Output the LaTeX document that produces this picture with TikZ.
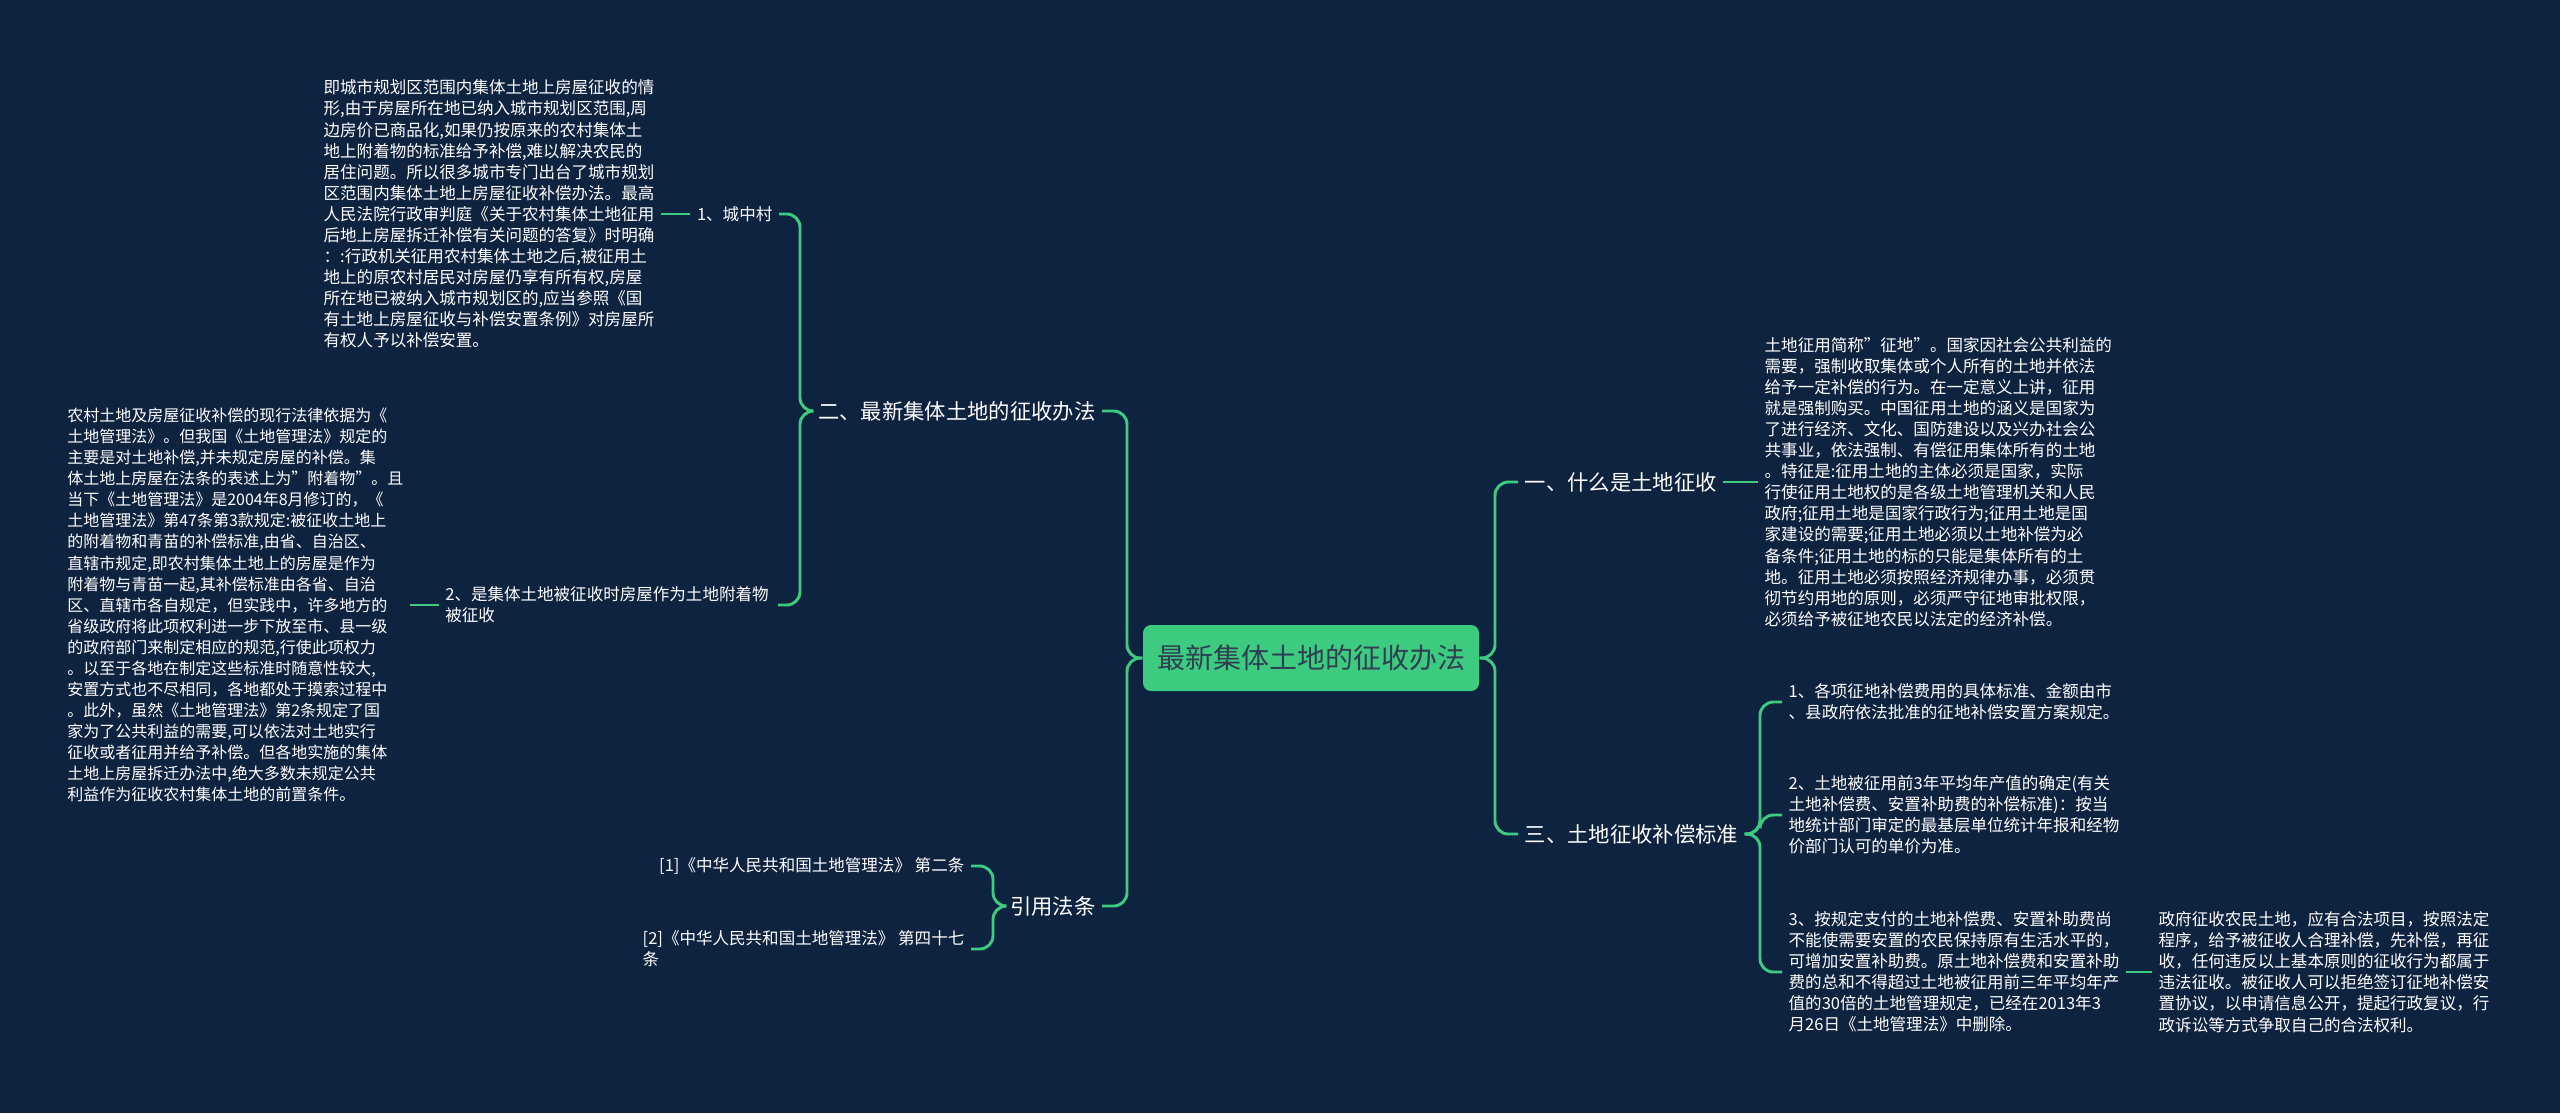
\documentclass[tikz,border=0pt]{standalone}
\usepackage{fontspec}
\setmainfont{Noto Sans CJK SC}
\begin{document}
\begin{tikzpicture}[x=0.375pt,y=-0.375pt,
  txt/.style={text=white,font=\fontsize{6.2}{7.9}\selectfont,align=left,inner sep=0pt,outer sep=2.5pt},
  lab/.style={text=white,font=\fontsize{8}{10}\selectfont,inner sep=0pt,outer sep=2.5pt},
  con/.style={draw=lineg,line width=1.1pt,rounded corners=5pt}]
\definecolor{bg}{HTML}{0E2340}
\definecolor{lineg}{HTML}{3CCB7F}
\fill[bg] (0,0) rectangle (2560,1113);
\useasboundingbox (0,0) rectangle (2560,1113);
% centre
\node[fill=lineg,rounded corners=3pt,minimum width=336*0.375pt,minimum height=66*0.375pt,text=bg!70!gray,font=\fontsize{10.5}{12}\selectfont] (c) at (1311,658) {最新集体土地的征收办法};
% right side
\node[lab,anchor=west] (r1) at (1518,482) {一、什么是土地征收};
\node[lab,anchor=west] (r3) at (1518,834) {三、土地征收补偿标准};
\node[txt,anchor=west] (t1) at (1758,482) {土地征用简称"征地"。国家因社会公共利益的\\需要，强制收取集体或个人所有的土地并依法\\给予一定补偿的行为。在一定意义上讲，征用\\就是强制购买。中国征用土地的涵义是国家为\\了进行经济、文化、国防建设以及兴办社会公\\共事业，依法强制、有偿征用集体所有的土地\\。特征是:征用土地的主体必须是国家，实际\\行使征用土地权的是各级土地管理机关和人民\\政府;征用土地是国家行政行为;征用土地是国\\家建设的需要;征用土地必须以土地补偿为必\\备条件;征用土地的标的只能是集体所有的土\\地。征用土地必须按照经济规律办事，必须贯\\彻节约用地的原则，必须严守征地审批权限，\\必须给予被征地农民以法定的经济补偿。};
\node[txt,anchor=west] (s1) at (1782,702) {1、各项征地补偿费用的具体标准、金额由市\\、县政府依法批准的征地补偿安置方案规定。};
\node[txt,anchor=west] (s2) at (1782,815) {2、土地被征用前3年平均年产值的确定(有关\\土地补偿费、安置补助费的补偿标准)：按当\\地统计部门审定的最基层单位统计年报和经物\\价部门认可的单价为准。};
\node[txt,anchor=west] (s3) at (1782,972) {3、按规定支付的土地补偿费、安置补助费尚\\不能使需要安置的农民保持原有生活水平的，\\可增加安置补助费。原土地补偿费和安置补助\\费的总和不得超过土地被征用前三年平均年产\\值的30倍的土地管理规定，已经在2013年3\\月26日《土地管理法》中删除。};
\node[txt,anchor=west] (s4) at (2152,972) {政府征收农民土地，应有合法项目，按照法定\\程序，给予被征收人合理补偿，先补偿，再征\\收，任何违反以上基本原则的征收行为都属于\\违法征收。被征收人可以拒绝签订征地补偿安\\置协议，以申请信息公开，提起行政复议，行\\政诉讼等方式争取自己的合法权利。};
% left side
\node[lab,anchor=east] (l2) at (1102,411) {二、最新集体土地的征收办法};
\node[lab,anchor=east] (lr) at (1102,906) {引用法条};
\node[txt,anchor=east] (a1) at (779,214) {1、城中村};
\node[txt,anchor=east,text width=326*0.375pt] (a2) at (778,605) {2、是集体土地被征收时房屋作为土地附着物\\被征收};
\node[txt,anchor=east] (b1) at (661,214) {即城市规划区范围内集体土地上房屋征收的情\\形,由于房屋所在地已纳入城市规划区范围,周\\边房价已商品化,如果仍按原来的农村集体土\\地上附着物的标准给予补偿,难以解决农民的\\居住问题。所以很多城市专门出台了城市规划\\区范围内集体土地上房屋征收补偿办法。最高\\人民法院行政审判庭《关于农村集体土地征用\\后地上房屋拆迁补偿有关问题的答复》时明确\\：:行政机关征用农村集体土地之后,被征用土\\地上的原农村居民对房屋仍享有所有权,房屋\\所在地已被纳入城市规划区的,应当参照《国\\有土地上房屋征收与补偿安置条例》对房屋所\\有权人予以补偿安置。};
\node[txt,anchor=east,font=\fontsize{6}{7.9}\selectfont] (b2) at (410,605) {农村土地及房屋征收补偿的现行法律依据为《\\土地管理法》。但我国《土地管理法》规定的\\主要是对土地补偿,并未规定房屋的补偿。集\\体土地上房屋在法条的表述上为"附着物"。且\\当下《土地管理法》是2004年8月修订的，《\\土地管理法》第47条第3款规定:被征收土地上\\的附着物和青苗的补偿标准,由省、自治区、\\直辖市规定,即农村集体土地上的房屋是作为\\附着物与青苗一起,其补偿标准由各省、自治\\区、直辖市各自规定，但实践中，许多地方的\\省级政府将此项权利进一步下放至市、县一级\\的政府部门来制定相应的规范,行使此项权力\\。以至于各地在制定这些标准时随意性较大,\\安置方式也不尽相同，各地都处于摸索过程中\\。此外，虽然《土地管理法》第2条规定了国\\家为了公共利益的需要,可以依法对土地实行\\征收或者征用并给予补偿。但各地实施的集体\\土地上房屋拆迁办法中,绝大多数未规定公共\\利益作为征收农村集体土地的前置条件。};
\node[txt,anchor=east] (f1) at (971,866) {[1]《中华人民共和国土地管理法》 第二条};
\node[txt,anchor=east] (f2) at (971,949) {[2]《中华人民共和国土地管理法》 第四十七\\条};
% connectors
\draw[con] (c.east) -- (1495,658) |- (r1.west);
\draw[con] (c.east) -- (1495,658) |- (r3.west);
\draw[con] (c.west) -- (1127,658) |- (l2.east);
\draw[con] (c.west) -- (1127,658) |- (lr.east);
\draw[con] (r1.east) -- (t1.west);
\draw[con] (r3.east) -- (1760,834) |- (s1.west);
\draw[con] (r3.east) -- (1760,834) |- (s2.west);
\draw[con] (r3.east) -- (1760,834) |- (s3.west);
\draw[con] (s3.east) -- (s4.west);
\draw[con] (l2.west) -- (800,411) |- (a1.east);
\draw[con] (l2.west) -- (800,411) |- (a2.east);
\draw[con] (a1.west) -- (b1.east);
\draw[con] (a2.west) -- (b2.east);
\draw[con] (lr.west) -- (993,906) |- (f1.east);
\draw[con] (lr.west) -- (993,906) |- (f2.east);
\end{tikzpicture}
\end{document}
